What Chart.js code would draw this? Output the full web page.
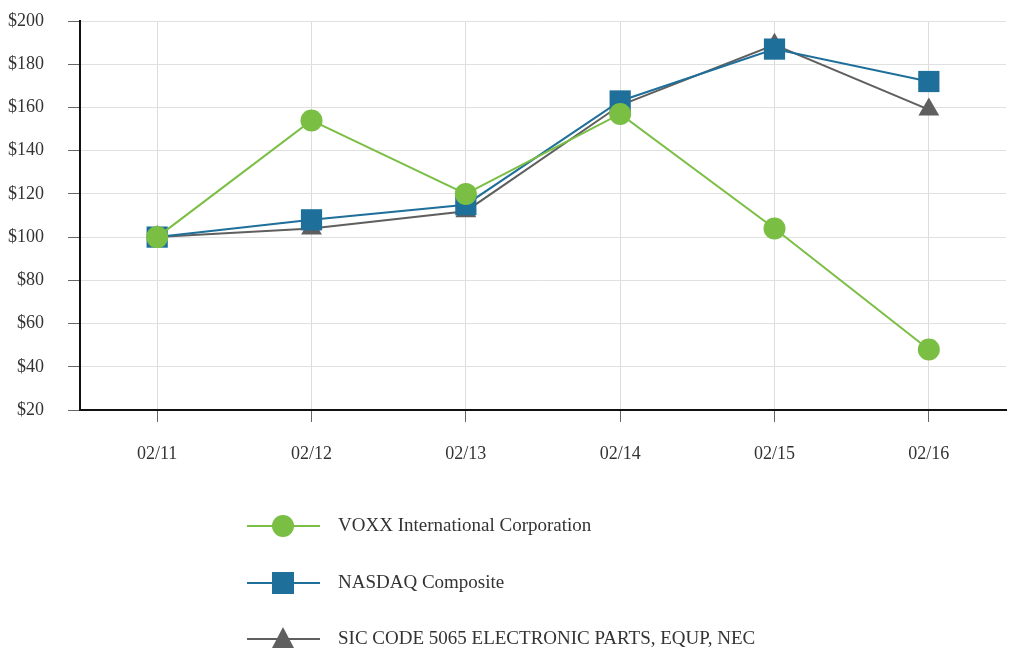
<!DOCTYPE html>
<html>
<head>
<meta charset="utf-8">
<script src="https://cdn.jsdelivr.net/npm/chart.js@4/dist/chart.umd.min.js"></script>
<style>
  html, body { margin: 0; padding: 0; background: #fff; overflow: hidden; }
  #wrap { position: relative; width: 1013px; height: 656px; overflow: hidden; }
  #perf { display: block; }
</style>
</head>
<body>
<div id="wrap"><canvas id="perf"></canvas></div>
<script>
// ── datos ──
const periods = ['02/11', '02/12', '02/13', '02/14', '02/15', '02/16'];
const voxx = [100, 154, 120, 157, 104, 48];
const nasdaq = [100, 108, 115, 163, 187, 172];
const sic5065 = [100, 104, 112, 161, 189, 159];
const yTicks = [20, 40, 60, 80, 100, 120, 140, 160, 180, 200];

const seriesNames = ['VOXX International Corporation', 'NASDAQ Composite', 'SIC CODE 5065 ELECTRONIC PARTS, EQUP, NEC'];
const colors = ['#7abf44', '#1f6f9b', '#5f5f5f'];
const serif = "'Liberation Serif', 'Times New Roman', serif";

// leyenda vertical dibujada debajo del gráfico
const legendBelow = {
    id: 'legendBelow',
    afterDraw(chart) {
        const ctx = chart.ctx;
        const rows = [526, 583, 639];
        ctx.save();
        chart.data.datasets.forEach((ds, i) => {
            const y = rows[i];
            ctx.strokeStyle = ds.borderColor;
            ctx.lineWidth = 2;
            ctx.beginPath();
            ctx.moveTo(247, y);
            ctx.lineTo(320, y);
            ctx.stroke();

            ctx.fillStyle = ds.backgroundColor;
            ctx.beginPath();
            if (ds.pointStyle === 'circle') {
                ctx.arc(283, y, 11, 0, Math.PI * 2);
            } else if (ds.pointStyle === 'rect') {
                ctx.rect(272, y - 11, 22, 22);
            } else {
                ctx.moveTo(283, y - 12);
                ctx.lineTo(294, y + 9);
                ctx.lineTo(272, y + 9);
                ctx.closePath();
            }
            ctx.fill();

            ctx.fillStyle = '#333';
            ctx.font = '19px ' + serif;
            ctx.textAlign = 'left';
            ctx.textBaseline = 'middle';
            ctx.fillText(ds.label, 338, y);
        });
        ctx.restore();
    }
};

function makeSet(i, values, style, radius) {
    return {
        label: seriesNames[i],
        data: values,
        borderColor: colors[i],
        backgroundColor: colors[i],
        borderWidth: 2,
        pointStyle: style,
        pointRadius: radius,
        pointBorderWidth: 0,
        pointHoverRadius: radius,
        tension: 0
    };
}

new Chart(document.getElementById('perf'), {
    type: 'line',
    data: {
        labels: periods,
        datasets: [
            makeSet(0, voxx, 'circle', 11),
            makeSet(1, nasdaq, 'rect', 15),
            makeSet(2, sic5065, 'triangle', 12)
        ]
    },
    options: {
        responsive: true,
        maintainAspectRatio: false,
        animation: false,
        layout: { autoPadding: false, padding: { top: 21, right: 7, left: 0, bottom: 0 } },
        plugins: {
            legend: { display: false },
            tooltip: { enabled: false }
        },
        scales: {
            x: {
                offset: true,
                afterFit: s => { s.height = 246; s.paddingLeft = 0; s.paddingRight = 0; },
                grid: { color: '#dcdcdc', tickColor: '#666', tickLength: 12, offset: false },
                border: { color: '#111', width: 2 },
                ticks: { color: '#333', padding: 21, font: { family: serif, size: 18 } }
            },
            y: {
                min: 20,
                max: 200,
                afterFit: s => { s.width = 80; s.paddingTop = 8; s.paddingBottom = 8; },
                afterBuildTicks: s => { s.ticks = yTicks.map(v => ({ value: v })); },
                grid: { color: '#e0e0e0', tickColor: '#666', tickLength: 12 },
                border: { color: '#111', width: 2 },
                ticks: {
                    color: '#333',
                    padding: 24,
                    font: { family: serif, size: 18 },
                    callback: v => '$' + v
                }
            }
        }
    },
    plugins: [legendBelow]
});
</script>
</body>
</html>
